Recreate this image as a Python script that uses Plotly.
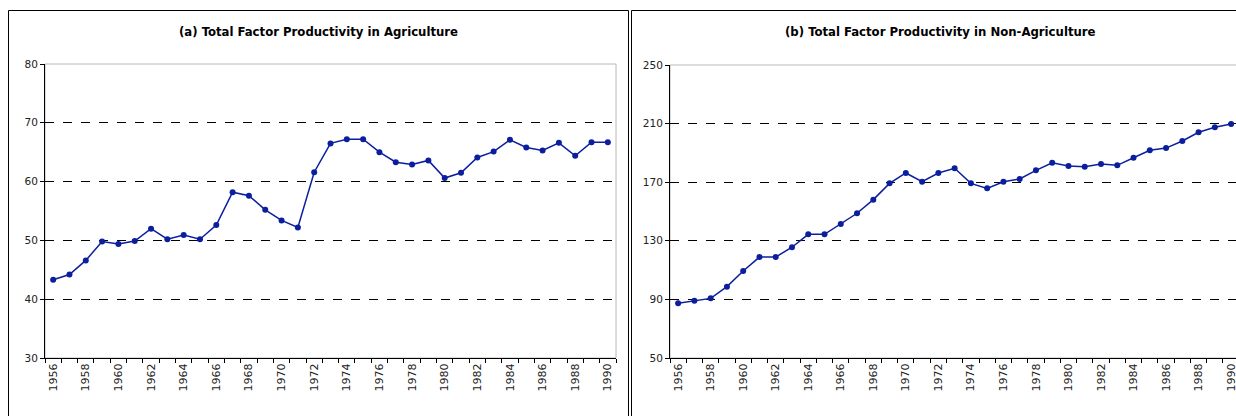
import plotly.graph_objects as go

# Years shown on both panels
years = list(range(1956, 1991))

# Total factor productivity, agriculture
tfp_agriculture = [
    43.3, 44.2, 46.6, 49.8, 49.4, 49.9, 52.0, 50.2, 50.9, 50.2,
    52.6, 58.2, 57.6, 55.2, 53.4, 52.2, 61.6, 66.5, 67.2, 67.2,
    65.0, 63.3, 62.9, 63.6, 60.6, 61.5, 64.1, 65.1, 67.1, 65.8,
    65.3, 66.6, 64.4, 66.7, 66.7,
]

# Total factor productivity, non-agriculture
tfp_non_agriculture = [
    87.3, 89.1, 90.7, 98.7, 109.4, 118.9, 118.9, 125.6, 134.4, 134.4,
    141.5, 148.8, 158.1, 169.2, 176.3, 170.3, 176.3, 179.5, 169.2, 165.8,
    170.3, 172.2, 178.1, 183.3, 181.1, 180.6, 182.4, 181.5, 186.7, 191.8,
    193.3, 198.1, 204.1, 207.5, 209.7,
]

titles = [
    "(a) Total Factor Productivity in Agriculture",
    "(b) Total Factor Productivity in Non-Agriculture",
]
y_ticks_a = [30, 40, 50, 60, 70, 80]
y_ticks_b = [50, 90, 130, 170, 210, 250]
year_labels = years[::2]

W, H = 1236, 416
LINE = "#0b1f9e"
FONT = "DejaVu Sans"
TITLE_FONT = "DejaVu Sans Condensed, Liberation Sans Narrow, DejaVu Sans"


def px_x(v):
    return v / W


def px_y(v):
    return 1 - v / H


fig = go.Figure()

fig.add_trace(go.Scatter(
    x=years, y=tfp_agriculture, mode="lines+markers",
    line=dict(color=LINE, width=1.5), marker=dict(color=LINE, size=6),
    xaxis="x", yaxis="y", showlegend=False,
))
fig.add_trace(go.Scatter(
    x=years, y=tfp_non_agriculture, mode="lines+markers",
    line=dict(color=LINE, width=1.5), marker=dict(color=LINE, size=6),
    xaxis="x2", yaxis="y2", showlegend=False,
))

y_dom_a = [px_y(358), px_y(64)]
y_dom_b = [px_y(358), px_y(65)]

common_x = dict(
    showgrid=False, zeroline=False, automargin=False,
    showline=True, linecolor="black", linewidth=1,
    tickmode="array", tickvals=year_labels,
    ticktext=[str(y) for y in year_labels],
    tickangle=-90, ticks="outside", ticklen=0,
    ticklabeloverflow="allow",
    tickfont=dict(family=FONT, size=11, color="#222"),
    minor=dict(tickmode="array",
               tickvals=[y - 0.5 for y in years] + [years[-1] + 0.5],
               ticks="outside", ticklen=4, tickcolor="black"),
)
common_y = dict(
    showgrid=True, gridcolor="black", griddash="dash", gridwidth=1,
    zeroline=False, showline=True, linecolor="black", linewidth=1,
    automargin=False,
    ticks="outside", ticklen=4, tickcolor="black",
    tickfont=dict(family=FONT, size=10.5, color="#222"),
    tickmode="array",
)

fig.update_layout(
    template="none",
    width=W, height=H, autosize=False,
    margin=dict(l=0, r=0, t=0, b=0, pad=0),
    paper_bgcolor="white", plot_bgcolor="white",
    xaxis=dict(common_x, domain=[px_x(45), px_x(616)],
               range=[1955.5, 1990.5], anchor="y"),
    yaxis=dict(common_y, domain=y_dom_a, range=[30, 80],
               tickvals=y_ticks_a, anchor="x"),
    xaxis2=dict(common_x, domain=[px_x(670), 1.0],
                range=[1955.5, 1990.3], anchor="y2"),
    yaxis2=dict(common_y, domain=y_dom_b, range=[50, 250],
                tickvals=y_ticks_b, anchor="x2"),
)

shapes = []
# light grey plot-area frames
for xd, yd in [((45, 616), y_dom_a), ((670, 1240), y_dom_b)]:
    shapes.append(dict(type="rect", xref="paper", yref="paper",
                       x0=px_x(xd[0]), x1=px_x(xd[1]), y0=yd[0], y1=yd[1],
                       line=dict(color="#b8b8b8", width=1), layer="below"))
# outer panel boxes
shapes.append(dict(type="rect", xref="paper", yref="paper",
                   x0=px_x(8.5), x1=px_x(628.5), y0=-0.05, y1=px_y(10.5),
                   line=dict(color="black", width=1)))
shapes.append(dict(type="rect", xref="paper", yref="paper",
                   x0=px_x(631.5), x1=1.05, y0=-0.05, y1=px_y(10.5),
                   line=dict(color="black", width=1)))
fig.update_layout(shapes=shapes)

for cx, text in zip([318, 940], titles):
    fig.add_annotation(
        x=px_x(cx), y=px_y(32), xref="paper", yref="paper",
        text=f"<b>{text}</b>", showarrow=False,
        font=dict(family=TITLE_FONT, size=13, color="black"),
        xanchor="center", yanchor="middle",
    )

fig.write_html("out.html")
